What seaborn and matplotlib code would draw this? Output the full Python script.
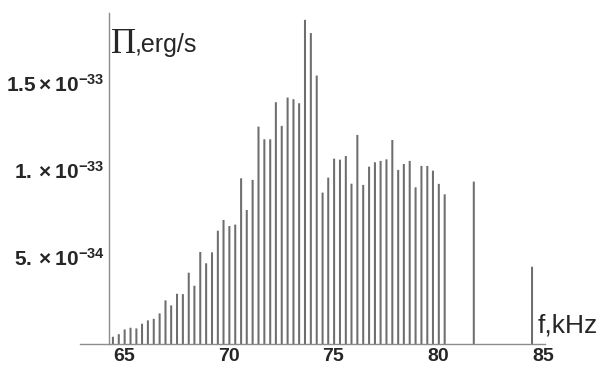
import matplotlib
matplotlib.use("Agg")
import matplotlib.pyplot as plt
import numpy as np
import pandas as pd
import seaborn as sns
from matplotlib.ticker import FixedLocator, MultipleLocator


# ── data (power in units of 1e-34 erg/s) ─────────────────────────────────────

freq_khz = [
    64.47, 64.75, 65.03, 65.31, 65.59, 65.86, 66.14, 66.42, 66.70, 66.98,
    67.25, 67.53, 67.81, 68.09, 68.36, 68.64, 68.92, 69.20, 69.48, 69.75,
    70.03, 70.31, 70.59, 70.86, 71.14, 71.42, 71.70, 71.98, 72.25, 72.53,
    72.81, 73.09, 73.36, 73.64, 73.92, 74.20, 74.48, 74.75, 75.03, 75.31,
    75.59, 75.86, 76.14, 76.42, 76.70, 76.98, 77.25, 77.53, 77.81, 78.09,
    78.36, 78.64, 78.92, 79.20, 79.48, 79.75, 80.03, 80.31,
    81.70, 84.48,
]
power_e34 = [
    0.42, 0.57, 0.84, 0.94, 0.90, 1.17, 1.36, 1.45, 1.76, 2.51,
    2.22, 2.89, 2.87, 4.10, 3.35, 5.29, 4.64, 5.27, 6.51, 7.13,
    6.78, 6.86, 9.52, 7.70, 9.43, 12.49, 11.76, 11.76, 13.89, 12.53,
    14.16, 14.06, 13.83, 18.62, 17.86, 15.42, 8.70, 9.56, 10.65, 10.59,
    10.80, 9.21, 12.01, 9.14, 10.19, 10.44, 10.52, 10.61, 11.72, 10.00,
    10.34, 10.52, 9.00, 10.23, 10.23, 9.96, 9.20, 8.60,
    9.33, 4.44,
]

x_ticks = [65, 70, 75, 80, 85]
y_ticks = [5e-34, 1e-33, 1.5e-33]
y_tick_labels = [r"$5.\times10^{-34}$", r"$1.\times10^{-33}$", r"$1.5\times10^{-33}$"]

df = pd.DataFrame({"f": freq_khz, "P": np.array(power_e34) * 1e-34})

# ── style ────────────────────────────────────────────────────────────────────

sns.set_style("white")
plt.rcParams["font.family"] = ["Liberation Sans", "DejaVu Sans"]
plt.rcParams["mathtext.fontset"] = "custom"
plt.rcParams["mathtext.rm"] = "Liberation Sans:bold"
plt.rcParams["mathtext.it"] = "Liberation Sans:bold"
plt.rcParams["mathtext.bf"] = "Liberation Sans:bold"

axis_col = "#8c8c8c"
bar_col = "#6e6e6e"

fig = plt.figure(figsize=(6.11, 3.68), dpi=100)
ax = fig.add_axes([0.131, 0.065, 0.761, 0.900])

sns.barplot(data=df, x="f", y="P", native_scale=True, width=0.36,
            color=bar_col, linewidth=0, saturation=1, ax=ax)
for p in ax.patches:
    p.set_snap(False)

ax.set_xlim(62.9, 85.1)
ax.set_ylim(0, 1.902e-33)

# mathematica-like crossing axes
for s in ["top", "right"]:
    ax.spines[s].set_visible(False)
ax.spines["left"].set_position(("data", 64.28))
ax.spines["bottom"].set_position(("data", 0))
for s in ["left", "bottom"]:
    ax.spines[s].set_color(axis_col)
    ax.spines[s].set_linewidth(1.0)

ax.xaxis.set_major_locator(FixedLocator(x_ticks))
ax.xaxis.set_minor_locator(MultipleLocator(1))
ax.yaxis.set_major_locator(FixedLocator(y_ticks))
ax.yaxis.set_minor_locator(MultipleLocator(1e-34))
ax.set_xticklabels([str(t) for t in x_ticks], fontsize=14, fontweight="bold")
ax.set_yticklabels(y_tick_labels, fontsize=15)
ax.tick_params(axis="both", which="major", direction="in", length=5,
               width=0.9, color=axis_col, pad=3)
ax.tick_params(axis="both", which="minor", direction="in", length=3,
               width=0.7, color="#a8a8a8")
ax.set_xlabel("")
ax.set_ylabel("")

# axis titles placed inside, as in the reference
ax.text(0.066, 0.955, "\u03a0", transform=ax.transAxes, fontsize=25,
        family="Liberation Serif", va="top", ha="left")
ax.text(0.118, 0.94, ",erg/s", transform=ax.transAxes, fontsize=18,
        va="top", ha="left")
ax.text(0.985, 0.02, "f,kHz", transform=ax.transAxes, fontsize=19,
        va="bottom", ha="left")

fig.savefig("out.png", dpi=100)
